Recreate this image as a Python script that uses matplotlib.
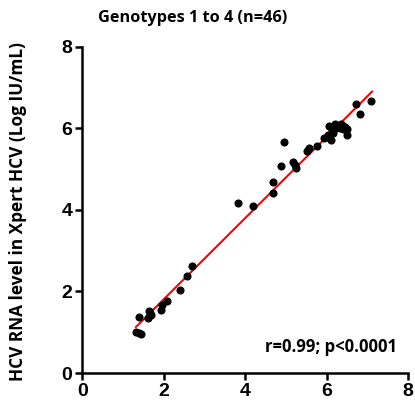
import numpy as np
import matplotlib
matplotlib.use("Agg")
import matplotlib.pyplot as plt

# Values (log IU/mL)
x_ref = [1.32, 1.39, 1.44, 1.40, 1.61, 1.63, 1.69, 1.94, 1.97, 2.08,
         2.41, 2.57, 2.70, 3.82, 4.20, 4.68, 4.69, 4.89, 4.96, 5.18,
         5.25, 5.22, 5.53, 5.58, 5.76, 5.93, 6.00, 6.11, 6.07, 6.13,
         6.21, 6.24, 6.33, 6.38, 6.45, 6.51, 6.51, 6.73, 6.82, 7.09,
         6.04, 6.28, 6.41, 6.16, 1.66, 6.35]
y_xpert = [1.00, 0.98, 0.96, 1.37, 1.34, 1.53, 1.42, 1.55, 1.66, 1.76,
           2.04, 2.39, 2.63, 4.18, 4.10, 4.42, 4.69, 5.08, 5.67, 5.17,
           5.02, 5.10, 5.44, 5.53, 5.58, 5.76, 5.78, 5.71, 6.06, 5.96,
           6.12, 6.00, 6.02, 6.08, 6.04, 5.98, 5.85, 6.60, 6.35, 6.68,
           5.84, 6.06, 5.98, 5.88, 1.47, 6.10]

title = "Genotypes 1 to 4 (n=46)"
ylabel = "HCV RNA level in Xpert HCV (Log IU/mL)"
stats_text = "r=0.99; p<0.0001"

fig = plt.figure(figsize=(4.15, 4.05), dpi=100)
ax = fig.add_axes([0.198, 0.079, 0.785, 0.805])

ax.scatter(x_ref, y_xpert, s=34, color="black", zorder=3, linewidths=0)

# regression line over the data range
slope, intercept = np.polyfit(x_ref, y_xpert, 1)
xs = np.array([min(x_ref), max(x_ref) + 0.03])
ax.plot(xs, slope * xs + intercept, color="red", lw=1.5, zorder=2)

ax.set_xlim(0, 8)
ax.set_ylim(0, 8)
ax.set_xticks([0, 2, 4, 6, 8])
ax.set_yticks([0, 2, 4, 6, 8])
for s in ["top", "right"]:
    ax.spines[s].set_visible(False)
for s in ["left", "bottom"]:
    ax.spines[s].set_linewidth(1.8)
ax.tick_params(width=1.8, length=5, direction="out", pad=2)
for lab in ax.get_xticklabels() + ax.get_yticklabels():
    lab.set_fontfamily("Liberation Sans")
    lab.set_fontweight("bold")
    lab.set_fontsize(14)

ax.text(0.966, 0.08, stats_text, transform=ax.transAxes, ha="right", va="center",
        fontsize=12, fontweight="bold", family="Open Sans")
fig.text(0.465, 0.955, title, ha="center", va="center",
         fontsize=11.7, fontweight="bold", family="Open Sans")
fig.text(0.043, 0.477, ylabel, rotation=90, ha="center", va="center",
         fontsize=12.4, fontweight="bold", family="Open Sans")

fig.savefig("out.png", dpi=100)
